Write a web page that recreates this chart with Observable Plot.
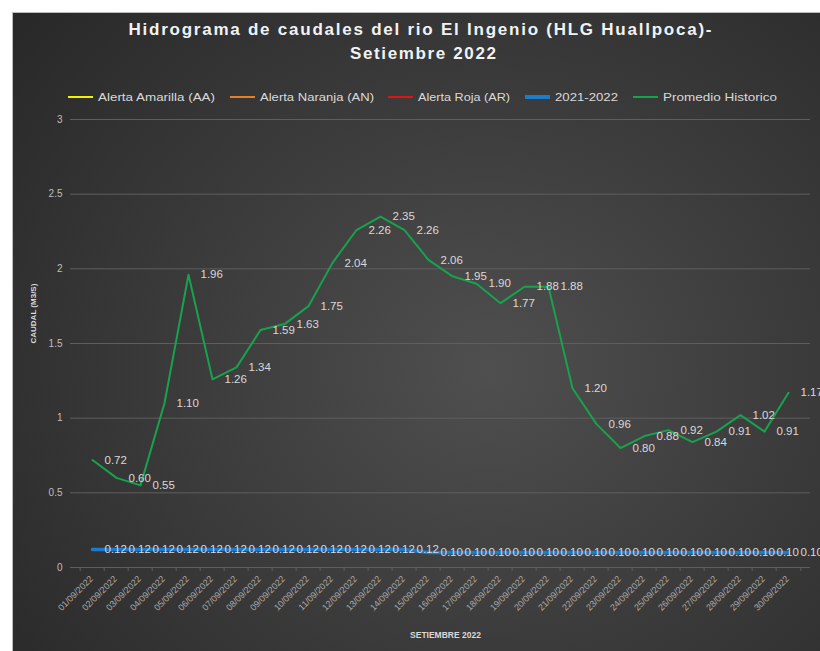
<!DOCTYPE html>
<html><head><meta charset="utf-8">
<script src="https://cdn.jsdelivr.net/npm/d3@7"></script>
<script src="https://cdn.jsdelivr.net/npm/@observablehq/plot@0.6"></script>
<style>
html,body{margin:0;padding:0;background:#fff;overflow:hidden;width:820px;height:651px}
#chart{position:absolute;left:12px;top:12px;width:820px;height:650px;border-left:1px solid #bcbcbc;border-top:1px solid #bcbcbc;
background: radial-gradient(ellipse 75% 85% at 58% 55%, #4f4f4f 0%, #3d3d3d 45%, #282828 100%);}
#head{position:absolute;left:0;top:0;width:807px;height:92px}
#plot{position:absolute;left:0;top:92px}
</style></head><body><div id="chart"><div id="head"></div><div id="plot"></div></div>
<script>
// ---- data ----
const titleLines = ["Hidrograma  de caudales  del rio El Ingenio  (HLG Huallpoca)-", "Setiembre  2022"];
const dates = ["01/09/2022","02/09/2022","03/09/2022","04/09/2022","05/09/2022","06/09/2022","07/09/2022","08/09/2022","09/09/2022","10/09/2022",
  "11/09/2022","12/09/2022","13/09/2022","14/09/2022","15/09/2022","16/09/2022","17/09/2022","18/09/2022","19/09/2022","20/09/2022",
  "21/09/2022","22/09/2022","23/09/2022","24/09/2022","25/09/2022","26/09/2022","27/09/2022","28/09/2022","29/09/2022","30/09/2022"];
const promedioHistorico = [0.72,0.60,0.55,1.10,1.96,1.26,1.34,1.59,1.63,1.75,2.04,2.26,2.35,2.26,2.06,1.95,1.90,1.77,1.88,1.88,
  1.20,0.96,0.80,0.88,0.92,0.84,0.91,1.02,0.91,1.17];
const serie20212022 = [0.12,0.12,0.12,0.12,0.12,0.12,0.12,0.12,0.12,0.12,0.12,0.12,0.12,0.12,0.10,0.10,0.10,0.10,0.10,0.10,
  0.10,0.10,0.10,0.10,0.10,0.10,0.10,0.10,0.10,0.10];
const seriesNames = ["Alerta Amarilla (AA)","Alerta Naranja (AN)","Alerta Roja (AR)","2021-2022","Promedio Historico"];
const seriesColors = ["#f2f200","#e87d2a","#e01414","#1b7ccc","#17a24d"];
const yTicks = [0,0.5,1,1.5,2,2.5,3];
const yLabel = "CAUDAL (M3/S)";
const xLabel = "SETIEMBRE 2022";

// ---- layout / style ----
const legendX = [55, 217, 375, 512, 620];       // swatch starts (local px)
const legendTextW = [117, 114, 92, 63, 114];
const txt = "#d9d9d9";

// header (title + legend)
const head = d3.select("#head").append("svg").attr("width", 807).attr("height", 92)
  .style("font-family", "'Liberation Sans', Arial, sans-serif");
head.append("text").attr("x", 407).attr("y", 22).attr("text-anchor", "middle")
  .attr("font-size", 17).attr("font-weight", "bold").attr("fill", "#f2f2f2")
  .attr("textLength", 583).attr("lengthAdjust", "spacing").text(titleLines[0]);
head.append("text").attr("x", 410).attr("y", 46).attr("text-anchor", "middle")
  .attr("font-size", 17).attr("font-weight", "bold").attr("fill", "#f2f2f2")
  .attr("textLength", 146).attr("lengthAdjust", "spacing").text(titleLines[1]);
seriesNames.forEach((n, i) => {
  const g = head.append("g").attr("transform", `translate(${legendX[i]},84)`);
  g.append("line").attr("x1", 0).attr("x2", 25).attr("y1", 0).attr("y2", 0)
    .attr("stroke", seriesColors[i]).attr("stroke-width", i === 3 ? 4 : 2);
  g.append("text").attr("x", 30).attr("y", 4).attr("font-size", 11).attr("fill", txt)
    .style("font-family", "'Liberation Sans Narrow', 'Liberation Sans', sans-serif")
    .attr("textLength", legendTextW[i]).attr("lengthAdjust", "spacingAndGlyphs").text(n);
});

// plot
const data = dates.map((d, i) => ({date: d, hist: promedioHistorico[i], cur: serie20212022[i]}));
const W = 807, ML = 57, MR = 10;
const step = (W - ML - MR) / dates.length;
const plot = Plot.plot({
  width: W, height: 546, marginTop: 14, marginBottom: 84, marginLeft: ML, marginRight: MR,
  style: {background: "transparent", fontFamily: "'Liberation Sans', Arial, sans-serif", overflow: "visible"},
  x: {type: "point", domain: dates, padding: 0.5, axis: null},
  y: {domain: [0, 3], axis: null},
  marks: [
    Plot.ruleY(yTicks, {stroke: "#5e5e5e", strokeWidth: 1}),
    Plot.ruleX(dates, {x: d => d, y1: 0, y2: -0.027, dx: -step / 2, stroke: "#5e5e5e"}),
    Plot.ruleX([dates[dates.length - 1]], {x: d => d, y1: 0, y2: -0.027, dx: step / 2, stroke: "#5e5e5e"}),
    Plot.axisY({ticks: yTicks, tickSize: 0, tickPadding: 8, fontSize: 10, color: "#bfbfbf", label: null, tickFormat: d => String(d)}),
    Plot.text([yLabel], {frameAnchor: "left", rotate: -90, dx: -37, fontSize: 8, fontWeight: "bold", fill: txt}),
    Plot.text([xLabel], {frameAnchor: "bottom", dy: 70, dx: 5, fontSize: 8.5, fontWeight: "bold", fill: txt}),
    Plot.text(dates, {x: d => d, frameAnchor: "bottom", rotate: -45, textAnchor: "end", dy: 12, dx: 1, fontSize: 9, fill: "#a8a8a8"}),
    Plot.line(data, {x: "date", y: "cur", stroke: seriesColors[3], strokeWidth: 3.5}),
    Plot.line(data, {x: "date", y: "hist", stroke: seriesColors[4], strokeWidth: 2}),
    Plot.text(data, {x: "date", y: "cur", text: d => d.cur.toFixed(2), textAnchor: "start", dx: 12, fontSize: 11.5, fill: txt}),
    Plot.text(data, {x: "date", y: "hist", text: d => d.hist.toFixed(2), textAnchor: "start", dx: 12, fontSize: 11.5, fill: txt})
  ]
});
document.getElementById("plot").appendChild(plot);
</script></body></html>
